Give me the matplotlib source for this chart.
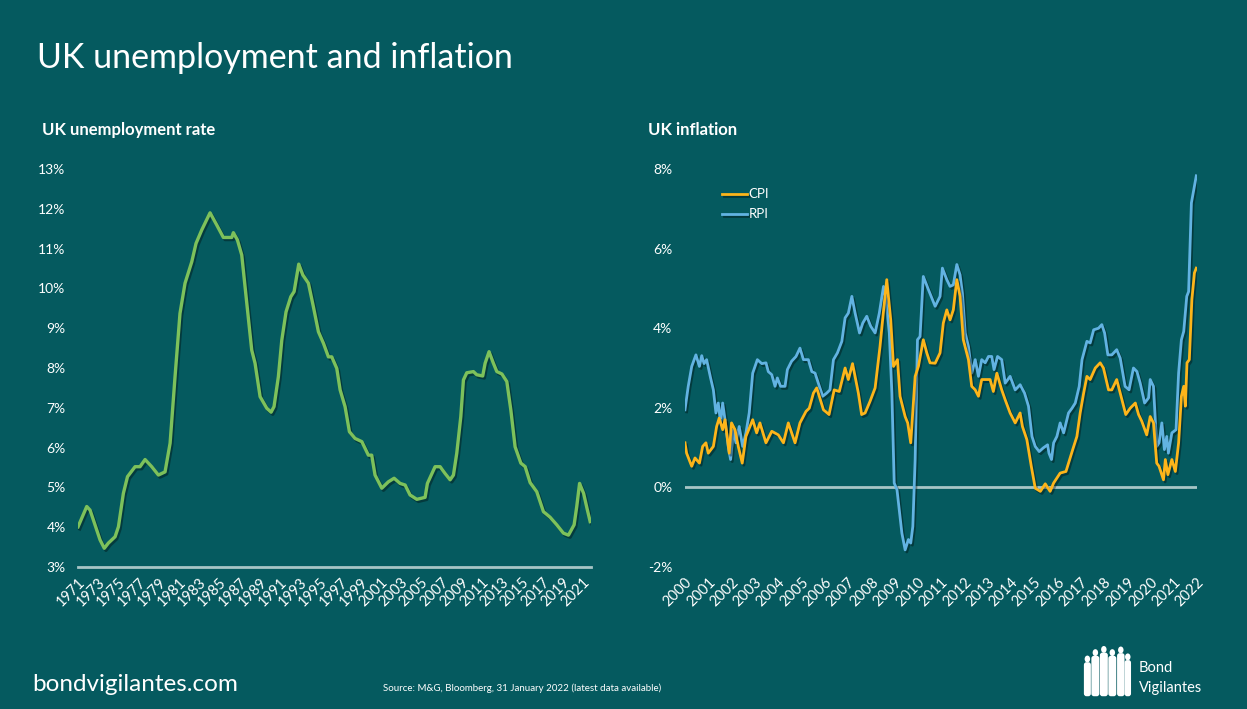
import matplotlib
matplotlib.use("Agg")
import matplotlib.pyplot as plt
import matplotlib.patheffects as pe
from matplotlib.patches import Ellipse, FancyBboxPatch

plt.rcParams['font.family'] = ['Lato', 'DejaVu Sans']

BG = '#055A5F'
WHITE = '#FFFFFF'
GREEN = '#7DC15B'
CPI_COL = '#FDB51A'
RPI_COL = '#62B3E2'
AXIS_COL = '#A7C5C6'

# UK unemployment rate (%)
unemp_years = [1971.0, 1971.86, 1972.19, 1972.85, 1973.18, 1973.6, 1974.0, 1974.67, 1975.0,
               1975.49, 1975.9, 1976.65, 1977.14, 1977.64, 1978.3, 1978.96, 1979.62, 1980.12,
               1980.61, 1981.1, 1981.6, 1982.27, 1982.69, 1983.26, 1984.08, 1984.75, 1985.4,
               1986.23, 1986.39, 1986.79, 1987.22, 1987.72, 1988.21, 1988.54, 1989.04, 1989.7,
               1990.13, 1990.42, 1990.85, 1991.19, 1991.61, 1992.08, 1992.41, 1992.87, 1993.27,
               1993.83, 1994.32, 1994.82, 1995.32, 1995.81, 1996.14, 1996.64, 1996.97, 1997.46,
               1997.89, 1998.45, 1999.12, 1999.77, 2000.1, 2000.43, 2001.1, 2001.75, 2002.32,
               2002.91, 2003.41, 2003.9, 2004.57, 2005.39, 2005.62, 2006.38, 2006.88, 2007.37,
               2007.87, 2008.2, 2008.53, 2008.93, 2009.19, 2009.52, 2010.18, 2010.51, 2011.1,
               2011.34, 2011.73, 2012.16, 2012.5, 2013.0, 2013.49, 2013.89, 2014.31, 2014.88,
               2015.31, 2015.8, 2016.46, 2017.12, 2017.78, 2018.44, 2019.1, 2019.6, 2020.16,
               2020.42, 2020.7, 2021.1, 2021.44, 2021.75]
unemp_values = [4.01, 4.52, 4.43, 3.93, 3.68, 3.47, 3.6, 3.76, 4.01,
                4.85, 5.27, 5.52, 5.52, 5.70, 5.52, 5.31, 5.39, 6.11,
                7.78, 9.37, 10.13, 10.67, 11.13, 11.47, 11.90, 11.59, 11.28,
                11.28, 11.4, 11.22, 10.84, 9.63, 8.45, 8.12, 7.28, 6.99,
                6.89, 7.03, 7.78, 8.70, 9.41, 9.79, 9.92, 10.61, 10.34,
                10.13, 9.54, 8.91, 8.62, 8.28, 8.28, 7.99, 7.45, 7.03,
                6.40, 6.23, 6.15, 5.81, 5.81, 5.31, 4.98, 5.14, 5.23,
                5.10, 5.06, 4.81, 4.70, 4.75, 5.10, 5.52, 5.52, 5.35,
                5.19, 5.31, 5.86, 6.78, 7.70, 7.88, 7.91, 7.83, 7.80,
                8.12, 8.41, 8.12, 7.91, 7.85, 7.66, 6.94, 6.02, 5.61,
                5.52, 5.12, 4.89, 4.39, 4.25, 4.06, 3.85, 3.80, 4.06,
                4.52, 5.10, 4.85, 4.47, 4.14]

# UK CPI inflation (% y/y)
cpi_years = [2000.0, 2000.07, 2000.29, 2000.43, 2000.62, 2000.76, 2000.9, 2001.0, 2001.22,
             2001.36, 2001.47, 2001.62, 2001.72, 2001.9, 2002.0, 2002.15, 2002.29, 2002.46,
             2002.62, 2002.91, 2003.08, 2003.22, 2003.48, 2003.73, 2004.01, 2004.23, 2004.44,
             2004.73, 2004.94, 2005.2, 2005.34, 2005.52, 2005.66, 2005.95, 2006.19, 2006.41,
             2006.63, 2006.88, 2007.02, 2007.2, 2007.45, 2007.59, 2007.74, 2007.95, 2008.17,
             2008.38, 2008.55, 2008.67, 2008.84, 2008.96, 2009.13, 2009.24, 2009.46, 2009.57,
             2009.7, 2009.89, 2010.03, 2010.24, 2010.39, 2010.53, 2010.75, 2010.96, 2011.1,
             2011.25, 2011.39, 2011.53, 2011.68, 2011.82, 2011.96, 2012.18, 2012.32, 2012.47,
             2012.61, 2012.75, 2013.11, 2013.25, 2013.4, 2013.61, 2013.76, 2013.97, 2014.19,
             2014.4, 2014.5, 2014.69, 2014.88, 2015.05, 2015.27, 2015.48, 2015.69, 2015.84,
             2016.12, 2016.37, 2016.48, 2016.66, 2016.84, 2016.98, 2017.13, 2017.27, 2017.41,
             2017.63, 2017.84, 2017.98, 2018.2, 2018.34, 2018.55, 2018.7, 2018.94, 2019.13,
             2019.35, 2019.49, 2019.63, 2019.84, 2019.99, 2020.13, 2020.27, 2020.37, 2020.56,
             2020.64, 2020.75, 2020.92, 2021.07, 2021.21, 2021.33, 2021.43, 2021.5, 2021.57,
             2021.67, 2021.78, 2021.89, 2021.97]
cpi_values = [1.12, 0.86, 0.53, 0.74, 0.61, 1.03, 1.12, 0.86, 1.03,
              1.53, 1.74, 1.45, 1.70, 0.86, 1.62, 1.45, 1.03, 0.61,
              1.28, 1.70, 1.37, 1.62, 1.12, 1.41, 1.32, 1.12, 1.62,
              1.12, 1.62, 1.91, 1.99, 2.37, 2.50, 1.95, 1.83, 2.45,
              2.41, 3.00, 2.71, 3.11, 2.37, 1.83, 1.87, 2.16, 2.50,
              3.54, 4.55, 5.22, 4.21, 3.04, 3.21, 2.29, 1.78, 1.62,
              1.12, 2.79, 3.04, 3.71, 3.38, 3.13, 3.12, 3.38, 4.13,
              4.46, 4.21, 4.46, 5.22, 4.80, 3.71, 3.21, 2.54, 2.45,
              2.29, 2.71, 2.71, 2.41, 2.87, 2.45, 2.20, 1.87, 1.62,
              1.87, 1.53, 1.20, 0.53, -0.02, -0.10, 0.09, -0.10, 0.11,
              0.36, 0.40, 0.61, 0.95, 1.28, 1.87, 2.37, 2.79, 2.71,
              3.00, 3.13, 3.00, 2.45, 2.45, 2.71, 2.37, 1.83, 1.99,
              2.12, 1.83, 1.66, 1.32, 1.78, 1.62, 0.61, 0.53, 0.19,
              0.70, 0.32, 0.70, 0.40, 1.12, 2.29, 2.54, 2.04, 3.13,
              3.21, 4.72, 5.39, 5.51]

# UK RPI inflation (% y/y)
rpi_years = [2000.0, 2000.14, 2000.29, 2000.47, 2000.62, 2000.72, 2000.82, 2000.93, 2001.1,
             2001.22, 2001.33, 2001.43, 2001.53, 2001.62, 2001.76, 2001.86, 2001.96, 2002.08,
             2002.19, 2002.33, 2002.48, 2002.62, 2002.76, 2002.91, 2003.11, 2003.3, 2003.48,
             2003.58, 2003.73, 2003.87, 2003.97, 2004.11, 2004.3, 2004.4, 2004.58, 2004.77,
             2004.94, 2005.09, 2005.3, 2005.45, 2005.59, 2005.73, 2005.92, 2006.09, 2006.23,
             2006.38, 2006.55, 2006.74, 2006.88, 2007.02, 2007.17, 2007.31, 2007.5, 2007.64,
             2007.81, 2007.98, 2008.17, 2008.35, 2008.53, 2008.64, 2008.78, 2008.89, 2008.99,
             2009.11, 2009.22, 2009.32, 2009.46, 2009.6, 2009.7, 2009.79, 2009.89, 2009.99,
             2010.1, 2010.24, 2010.46, 2010.75, 2010.96, 2011.06, 2011.25, 2011.39, 2011.53,
             2011.68, 2011.82, 2011.92, 2012.04, 2012.18, 2012.32, 2012.47, 2012.61, 2012.75,
             2012.9, 2013.04, 2013.18, 2013.28, 2013.43, 2013.61, 2013.76, 2013.97, 2014.19,
             2014.4, 2014.59, 2014.76, 2014.91, 2015.05, 2015.22, 2015.39, 2015.58, 2015.64,
             2015.75, 2015.84, 2015.98, 2016.12, 2016.27, 2016.48, 2016.63, 2016.77, 2016.94,
             2017.06, 2017.27, 2017.41, 2017.56, 2017.77, 2017.91, 2018.03, 2018.17, 2018.34,
             2018.55, 2018.7, 2018.91, 2019.08, 2019.27, 2019.42, 2019.56, 2019.75, 2019.92,
             2019.99, 2020.13, 2020.27, 2020.37, 2020.49, 2020.6, 2020.7, 2020.77, 2020.92,
             2021.1, 2021.21, 2021.33, 2021.43, 2021.56, 2021.64, 2021.76, 2021.86, 2021.97]
rpi_values = [1.95, 2.54, 3.04, 3.33, 3.04, 3.31, 3.11, 3.21, 2.75,
              2.45, 1.87, 2.12, 1.62, 2.12, 1.53, 1.03, 0.70, 1.45,
              1.12, 1.53, 1.03, 1.37, 1.87, 2.87, 3.21, 3.11, 3.13,
              2.91, 2.83, 2.54, 2.75, 2.54, 2.54, 2.96, 3.17, 3.29,
              3.50, 3.21, 3.21, 2.91, 2.87, 2.62, 2.29, 2.37, 2.45,
              3.21, 3.38, 3.67, 4.26, 4.38, 4.80, 4.38, 3.88, 4.13,
              4.30, 4.05, 3.88, 4.38, 5.05, 4.72, 3.88, 2.37, 0.11,
              -0.06, -0.64, -1.15, -1.57, -1.31, -1.40, -0.98, 0.70, 3.71,
              3.79, 5.30, 4.97, 4.55, 4.80, 5.51, 5.22, 5.05, 5.09,
              5.60, 5.34, 4.88, 3.88, 3.54, 2.87, 3.21, 2.79, 3.21,
              3.13, 3.29, 3.29, 2.96, 3.29, 3.21, 2.62, 2.79, 2.45,
              2.58, 2.37, 2.04, 1.28, 1.03, 0.90, 0.99, 1.07, 0.86,
              0.70, 1.12, 1.28, 1.62, 1.37, 1.87, 1.99, 2.12, 2.54,
              3.21, 3.67, 3.63, 3.96, 4.00, 4.09, 3.88, 3.33, 3.33,
              3.46, 3.25, 2.54, 2.45, 3.00, 2.91, 2.62, 2.12, 2.25,
              2.71, 2.54, 1.03, 1.12, 1.62, 0.95, 1.28, 0.86, 1.37,
              1.45, 2.87, 3.71, 3.92, 4.80, 4.92, 7.15, 7.48, 7.83]

unemp_ticks = list(range(1971, 2022, 2))
infl_ticks = list(range(2000, 2023))

shadow = [pe.SimpleLineShadow(offset=(1.2, -1.5), shadow_color='black', alpha=0.35),
          pe.Normal()]

fig = plt.figure(figsize=(12.47, 7.09), dpi=100, facecolor=BG)

ax1 = fig.add_axes([0.0626, 0.2003, 0.4114, 0.5613], facecolor=BG)
ax2 = fig.add_axes([0.5493, 0.2003, 0.4106, 0.5613], facecolor=BG)

# left chart: unemployment
ax1.plot(unemp_years, unemp_values, color=GREEN, lw=2.4, solid_joinstyle='round',
         path_effects=shadow, zorder=3)
ax1.set_xlim(1971, 2021.84)
ax1.set_ylim(3, 13)
ax1.set_yticks(range(3, 14))
ax1.set_yticklabels([f'{v}%' for v in range(3, 14)])
ax1.axhline(3, color=AXIS_COL, lw=2, zorder=2, clip_on=False)
ax1.set_xticks(unemp_ticks)
ax1.set_xticklabels([str(y) for y in unemp_ticks], rotation=45, ha='right',
                    rotation_mode='anchor')

# right chart: inflation
ax2.axhline(0, color=AXIS_COL, lw=2, zorder=2)
ax2.plot(cpi_years, cpi_values, color=CPI_COL, lw=2.0, path_effects=shadow,
         zorder=4, label='CPI')
ax2.plot(rpi_years, rpi_values, color=RPI_COL, lw=2.0, path_effects=shadow,
         zorder=3, label='RPI')
ax2.set_xlim(2000, 2022.0)
ax2.set_ylim(-2, 8)
ax2.set_yticks(range(-2, 9, 2))
ax2.set_yticklabels([f'{v}%' for v in range(-2, 9, 2)])
ax2.set_xticks(infl_ticks)
ax2.set_xticklabels([str(y) for y in infl_ticks], rotation=45, ha='right',
                    rotation_mode='anchor')
leg = ax2.legend(loc='upper left', bbox_to_anchor=(0.062, 0.965), frameon=False,
                 handlelength=1.9, handletextpad=0.1, labelspacing=0.6,
                 fontsize=9.5, borderaxespad=0)
for t in leg.get_texts():
    t.set_color(WHITE)

for ax in (ax1, ax2):
    for s in ax.spines.values():
        s.set_visible(False)
    ax.tick_params(axis='y', length=0, colors=WHITE, labelsize=10, pad=9)
    ax.tick_params(axis='x', length=0, colors=WHITE, labelsize=10.5, pad=6)

# titles and texts
fig.text(0.030, 0.918, 'UK unemployment and inflation', color=WHITE, fontsize=24.5,
         va='center', ha='left')
fig.text(0.034, 0.817, 'UK unemployment rate', color=WHITE, fontsize=12,
         fontweight='bold', va='center', ha='left')
fig.text(0.520, 0.817, 'UK inflation', color=WHITE, fontsize=12,
         fontweight='bold', va='center', ha='left')
fig.text(0.026, 0.035, 'bondvigilantes.com', color=WHITE, fontsize=17.5,
         va='center', ha='left')
fig.text(0.307, 0.029, 'Source: M&G, Bloomberg, 31 January 2022 (latest data available)',
         color=WHITE, fontsize=7.0, va='center', ha='left')

# Bond Vigilantes logo: small crowd of silhouettes + wordmark
logo = fig.add_axes([0.868, 0.015, 0.040, 0.075])
logo.set_xlim(0, 10)
logo.set_ylim(0, 10)
logo.axis('off')
for cx, h, w in [(1.0, 6.8, 1.4), (2.6, 8.0, 1.6), (4.3, 8.6, 1.6),
                 (6.0, 8.0, 1.6), (7.7, 8.5, 1.5), (9.1, 7.2, 1.3)]:
    logo.add_patch(Ellipse((cx, h + 0.6), 1.1, 1.3, color=WHITE, lw=0))
    logo.add_patch(FancyBboxPatch((cx - w / 2, 0.4), w, h - 0.4,
                                  boxstyle='round,pad=0,rounding_size=0.5',
                                  color=WHITE, lw=0))
fig.text(0.913, 0.058, 'Bond', color=WHITE, fontsize=10.5, va='center', ha='left')
fig.text(0.913, 0.030, 'Vigilantes', color=WHITE, fontsize=10.5, va='center', ha='left')

fig.savefig('out.png', dpi=100, facecolor=BG)
